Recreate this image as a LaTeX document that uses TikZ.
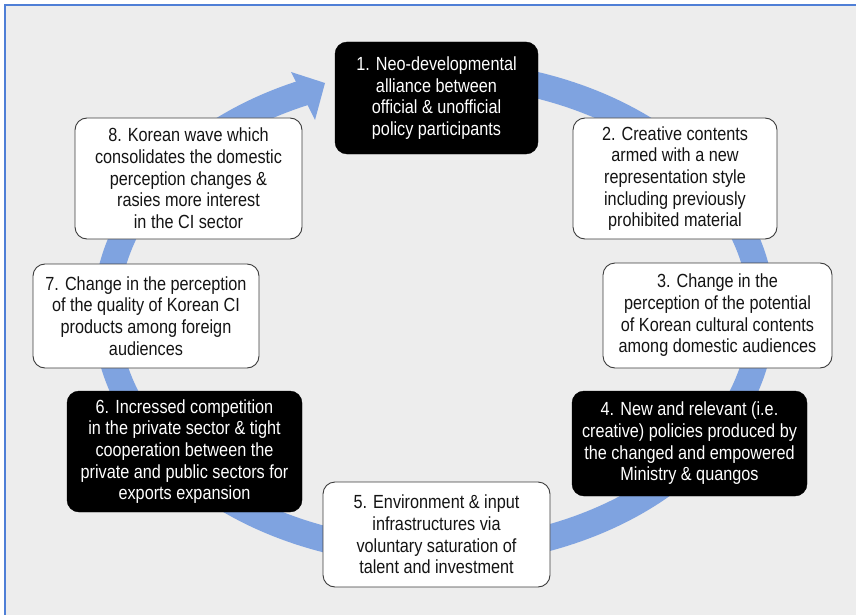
\documentclass[tikz,border=0pt]{standalone}
\usepackage{fontspec}
\setmainfont[FakeStretch=0.855]{Liberation Sans}
\definecolor{bgray}{RGB}{237,237,237}
\definecolor{frameblue}{RGB}{79,127,214}
\definecolor{arcblue}{RGB}{127,163,224}
\definecolor{boxline}{RGB}{60,60,60}
\definecolor{txt}{RGB}{20,20,20}
\begin{document}
\begin{tikzpicture}[x=1pt,y=-1pt,
  basebox/.style={rounded corners=12pt, align=center, inner sep=2pt,
    font=\fontsize{19}{21.7}\selectfont},
  whitebox/.style={basebox, fill=white, draw=boxline, line width=0.9pt, text=txt},
  blackbox/.style={basebox, fill=black, draw=black, text=white}]
\useasboundingbox (0,0) rectangle (856,615);
\fill[white] (0,0) rectangle (856,615);
\fill[bgray] (5,5) rectangle (856,615);
\draw[frameblue, line width=1.4pt] (5,615) -- (5,5) -- (856,5);
% cycle arrow
\draw[arcblue, line width=26pt] plot[domain=-75:247.5, samples=240, smooth]
  ({434+328*cos(\x)},{313+240*sin(\x)});
\fill[arcblue] (325,83) -- (291,72) -- (315,120) -- cycle;
% boxes
\node[blackbox, minimum width=203pt, minimum height=112pt] (n1) at (436.5,98)
  {1. Neo-developmental\\alliance between\\official \& unofficial\\policy participants};
\node[whitebox, minimum width=204pt, minimum height=121pt] (n2) at (675,178.5)
  {2. Creative contents\\armed with a new\\representation style\\including previously\\prohibited material};
\node[whitebox, minimum width=229pt, minimum height=105pt] (n3) at (717.5,315.5)
  {3. Change in the\\perception of the potential\\of Korean cultural contents\\among domestic audiences};
\node[blackbox, minimum width=235pt, minimum height=105pt] (n4) at (689.5,443.5)
  {4. New and relevant (i.e.\\creative) policies produced by\\the changed and empowered\\Ministry \& quangos};
\node[whitebox, minimum width=227pt, minimum height=105pt] (n5) at (436.5,534.5)
  {5. Environment \& input\\infrastructures via\\voluntary saturation of\\talent and investment};
\node[blackbox, minimum width=235pt, minimum height=121pt] (n6) at (184.5,451.5)
  {6. Incressed competition\\in the private sector \& tight\\cooperation between the\\private and public sectors for\\exports expansion};
\node[whitebox, minimum width=226pt, minimum height=104pt] (n7) at (146,316)
  {7. Change in the perception\\of the quality of Korean CI\\products among foreign\\audiences};
\node[whitebox, minimum width=227pt, minimum height=121pt] (n8) at (188.5,178.5)
  {8. Korean wave which\\consolidates the domestic\\perception changes \&\\rasies more interest\\in the CI sector};
\end{tikzpicture}
\end{document}
